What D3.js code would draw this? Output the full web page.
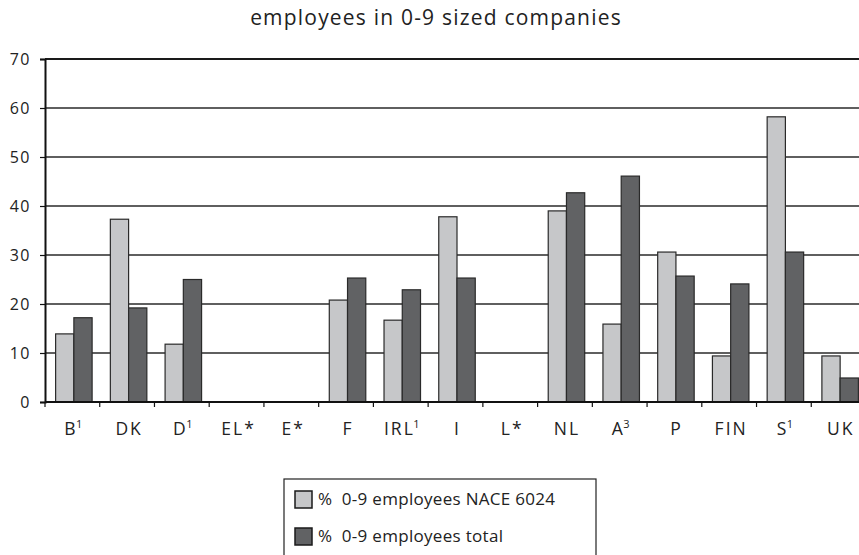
<!DOCTYPE html>
<html>
<head>
<meta charset="utf-8">
<script src="https://cdn.jsdelivr.net/npm/d3@7"></script>
<style>
  body { margin: 0; background: #fff; }
  svg { display: block; font-family: 'Open Sans', 'Noto Sans', sans-serif; }
</style>
</head>
<body>
<svg id="chart"></svg>
<script>
const title = 'employees in 0-9 sized companies'
const countries = ['B', 'DK', 'D', 'EL', 'E', 'F', 'IRL', 'I', 'L', 'NL', 'A', 'P', 'FIN', 'S', 'UK']
const suffixes = ['1', '', '1', '*', '*', '', '1', '', '*', '', '3', '', '', '1', '']
const naceValues = [13.9, 37.3, 11.8, 0, 0, 20.8, 16.7, 37.8, 0, 39.0, 15.9, 30.6, 9.4, 58.2, 9.4]
const totalValues = [17.2, 19.2, 25.0, 0, 0, 25.3, 22.9, 25.3, 0, 42.7, 46.1, 25.7, 24.1, 30.6, 4.9]
const seriesNames = ['%  0-9 employees NACE 6024', '%  0-9 employees total']
const seriesKeys = ['nace', 'total']
const yTicks = [0, 10, 20, 30, 40, 50, 60, 70]

const colors = { nace: '#c6c7c9', total: '#616264' }

const width = 859
const height = 555
const margin = { top: 59, right: -7, bottom: 153, left: 45 }

const svg = d3.select('#chart')
  .attr('width', width)
  .attr('height', height)

const x = d3.scaleBand()
  .domain(countries)
  .range([margin.left, width - margin.right])

const xInner = d3.scaleBand()
  .domain(seriesKeys)
  .range([0, x.bandwidth()])
  .paddingOuter(0.5)

const y = d3.scaleLinear()
  .domain([0, 70])
  .range([height - margin.bottom, margin.top])

const rows = countries.map((c, i) => ({ country: c, nace: naceValues[i], total: totalValues[i] }))

// title
svg.append('text')
  .attr('x', 436)
  .attr('y', 25)
  .attr('text-anchor', 'middle')
  .attr('font-size', 21)
  .attr('letter-spacing', 1.2)
  .attr('fill', '#222')
  .text(title)

// grid lines
svg.append('g')
  .selectAll('line')
  .data(yTicks.filter(t => t > 0 && t < 70))
  .enter()
  .append('line')
  .attr('x1', margin.left)
  .attr('x2', width)
  .attr('y1', d => y(d))
  .attr('y2', d => y(d))
  .attr('stroke', '#2a2a2a')
  .attr('stroke-width', 1.4)

// top frame line
svg.append('line')
  .attr('x1', margin.left)
  .attr('x2', width)
  .attr('y1', y(70))
  .attr('y2', y(70))
  .attr('stroke', '#1a1a1a')
  .attr('stroke-width', 2)

// bars
const groups = svg.append('g')
  .selectAll('g')
  .data(rows)
  .enter()
  .append('g')
  .attr('transform', d => 'translate(' + (x(d.country) + 1.5) + ',0)')

groups.selectAll('rect')
  .data(d => seriesKeys.map(k => ({ key: k, value: d[k] })).filter(v => v.value > 0))
  .enter()
  .append('rect')
  .attr('x', d => xInner(d.key))
  .attr('width', xInner.bandwidth())
  .attr('y', d => y(d.value))
  .attr('height', d => y(0) - y(d.value))
  .attr('fill', d => colors[d.key])
  .attr('stroke', '#2a2a2a')
  .attr('stroke-width', 1.2)

// y axis
const yAxis = svg.append('g')
  .attr('transform', 'translate(' + margin.left + ',0)')
  .call(d3.axisLeft(y).tickValues(yTicks).tickSize(5).tickPadding(9))
yAxis.select('.domain').attr('stroke', '#111').attr('stroke-width', 2)
yAxis.selectAll('.tick line').attr('stroke', '#111').attr('stroke-width', 1.2)
yAxis.selectAll('.tick text')
  .attr('font-family', "'Open Sans', 'Noto Sans', sans-serif")
  .attr('font-size', 16)
  .attr('letter-spacing', 1.5)
  .attr('fill', '#222')

// x axis
const xAxis = svg.append('g')
  .attr('transform', 'translate(0,' + y(0) + ')')
xAxis.append('line')
  .attr('x1', margin.left)
  .attr('x2', width)
  .attr('stroke', '#111')
  .attr('stroke-width', 2)
xAxis.selectAll('.tickmark')
  .data(countries)
  .enter()
  .append('line')
  .attr('class', 'tickmark')
  .attr('x1', d => x(d))
  .attr('x2', d => x(d))
  .attr('y1', 0)
  .attr('y2', 5)
  .attr('stroke', '#111')
  .attr('stroke-width', 1.2)

const labels = xAxis.selectAll('.label')
  .data(countries)
  .enter()
  .append('text')
  .attr('class', 'label')
  .attr('x', (d, i) => x(d) + x.bandwidth() / 2 + 2)
  .attr('y', 33)
  .attr('text-anchor', 'middle')
  .attr('font-size', 17.5)
  .attr('letter-spacing', 2)
  .attr('fill', '#222')

labels.append('tspan').text(d => d)
labels.append('tspan')
  .text((d, i) => suffixes[i] === '*' ? '*' : '')
labels.append('tspan')
  .attr('font-size', 11)
  .attr('dx', -1.5)
  .attr('dy', -7)
  .text((d, i) => suffixes[i] !== '*' ? suffixes[i] : '')

// legend
const legend = svg.append('g').attr('transform', 'translate(284,479)')
legend.append('rect')
  .attr('x', 0)
  .attr('y', 0)
  .attr('width', 312)
  .attr('height', 90)
  .attr('fill', '#fff')
  .attr('stroke', '#222')
  .attr('stroke-width', 1.2)

const items = legend.selectAll('.item')
  .data(seriesKeys)
  .enter()
  .append('g')
  .attr('class', 'item')
  .attr('transform', (d, i) => 'translate(11,' + (12 + i * 37) + ')')

items.append('rect')
  .attr('width', 17)
  .attr('height', 17)
  .attr('fill', d => colors[d])
  .attr('stroke', '#1a1a1a')
  .attr('stroke-width', 1.5)

items.append('text')
  .attr('x', 23)
  .attr('y', 14)
  .attr('font-size', 17)
  .attr('letter-spacing', 0.3)
  .attr('fill', '#222')
  .attr('xml:space', 'preserve')
  .text((d, i) => seriesNames[i])
</script>
</body>
</html>
